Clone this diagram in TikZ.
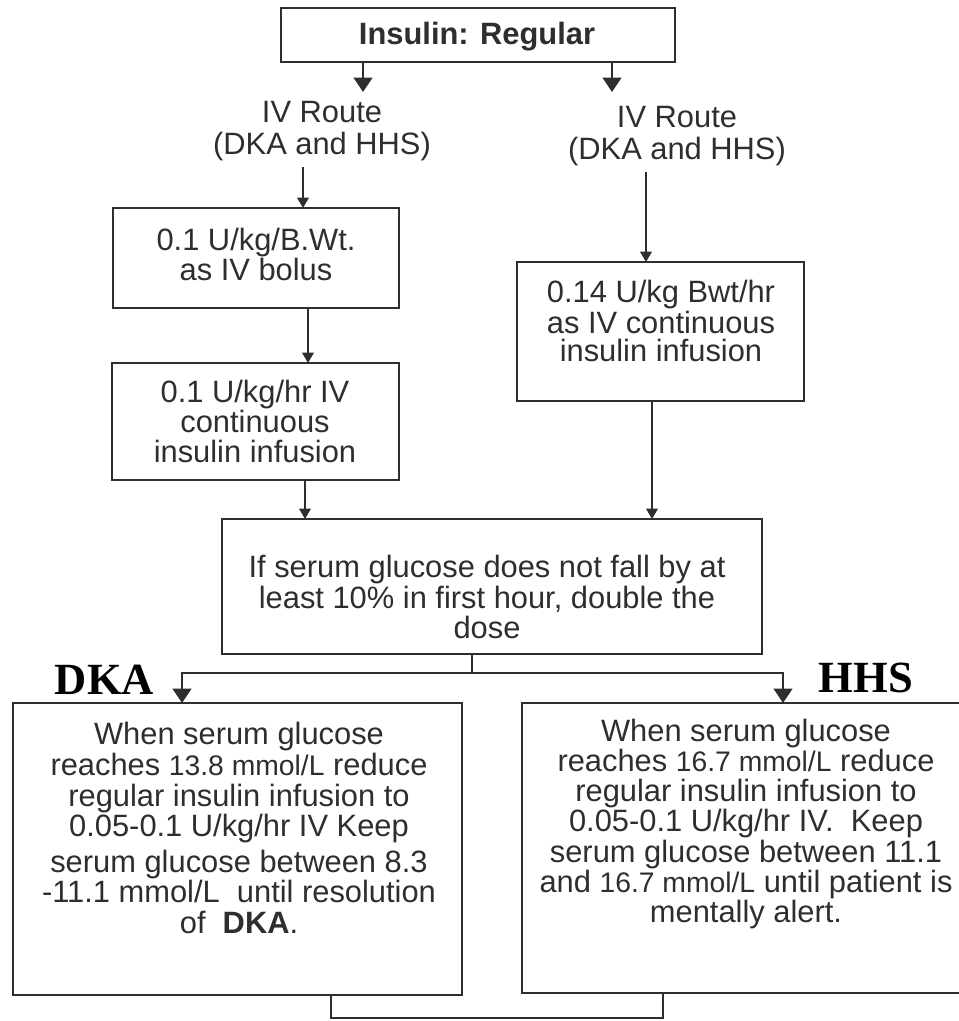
\documentclass[tikz,border=0pt]{standalone}
\usepackage{fontspec}
\setmainfont{Liberation Sans}
\newfontfamily\serifbold{Liberation Serif}
\usetikzlibrary{arrows.meta}
\definecolor{ink}{HTML}{2E2E2E}
\newcommand\lite[1]{{\fontsize{9.9}{10}\selectfont #1}}

\begin{document}
\begin{tikzpicture}[x={(0.35pt,0)}, y={(0,-0.35pt)},
  flowbox/.style={draw=ink, line width=1pt, inner sep=0pt, outer sep=0pt},
  txt/.style={text=ink, align=center, inner sep=0pt, font=\fontsize{10.8}{10.8}\selectfont},
  arr/.style={draw=ink, line width=0.7pt, -{Triangle[width=4pt,length=3.6pt]}},
  bigarr/.style={draw=ink, line width=0.7pt, -{Triangle[width=6.5pt,length=5pt]}},
  link/.style={draw=ink, line width=0.7pt},
  tag/.style={text=black, inner sep=0pt, font=\serifbold\bfseries\fontsize{15.6}{15.6}\selectfont}]
 \def\pxu{0.35pt}
 \useasboundingbox (0,0) rectangle (959,1021);

 % boxes
 \node[flowbox, minimum width=394*\pxu, minimum height=54*\pxu] (top) at (478,35) {};
 \node[flowbox, minimum width=286*\pxu, minimum height=100*\pxu] (b1) at (256,258) {};
 \node[flowbox, minimum width=287*\pxu, minimum height=117*\pxu] (b2) at (255.5,421.5) {};
 \node[flowbox, minimum width=287*\pxu, minimum height=139*\pxu] (b3) at (660.5,331.5) {};
 \node[flowbox, minimum width=540*\pxu, minimum height=135*\pxu] (mid) at (492,586.5) {};
 \node[flowbox, minimum width=449*\pxu, minimum height=292*\pxu] (dka) at (237.5,849) {};
 \node[flowbox, minimum width=450*\pxu, minimum height=290*\pxu] (hhs) at (747,848) {};

 % texts
 \node[txt, font=\fontsize{10.8}{10.8}\selectfont\bfseries] (ttop) at (477,37) {Insulin: Regular};
 \node[txt, inner sep=2pt, font=\fontsize{10.8}{11.2}\selectfont] (l1) at (322,131) {IV Route\\(DKA and HHS)};
 \node[txt, inner sep=2pt, font=\fontsize{10.8}{11.2}\selectfont] (r1) at (677,136) {IV Route\\(DKA and HHS)};
 \node[txt, font=\fontsize{10.8}{10.5}\selectfont] (t1) at (256,254) {0.1 U/kg/B.Wt.\\as IV bolus};
 \node[txt, font=\fontsize{10.8}{10.5}\selectfont] (t2) at (255,421) {0.1 U/kg/hr IV\\continuous\\insulin infusion};
 \node[txt, font=\fontsize{10.8}{9.9}\selectfont] (t3) at (661,321) {0.14 U/kg Bwt/hr\\as IV continuous\\insulin infusion};
 \node[txt] (tmid) at (487,597) {If serum glucose does not fall by at\\least 10\% in first hour, double the\\dose};
 \node[txt] (tdka) at (239,828) {When serum glucose\\reaches \lite{13.8 mmol/L} reduce\\regular insulin infusion to\\0.05-0.1 U/kg/hr IV Keep\\[1.5pt]serum glucose between 8.3\\-11.1 mmol/L\ \ until resolution\\of\ \ \textbf{DKA}.};
 \node[txt, font=\fontsize{10.8}{10.6}\selectfont] (thhs) at (746,824) {When serum glucose\\reaches \lite{16.7 mmol/L} reduce\\regular insulin infusion to\\0.05-0.1 U/kg/hr IV.\ \ Keep\\serum glucose between 11.1\\and \lite{16.7 mmol/L} until patient is\\mentally alert.};
 \node[tag] (ldka) at (104.5,680) {DKA};
 \node[tag] (lhhs) at (866,678) {HHS};

 % arrow columns
 \coordinate (c1) at (363,92);
 \coordinate (c2) at (612,92);
 \coordinate (c3) at (303,0);
 \coordinate (c4) at (646,0);
 \coordinate (c5) at (308,0);
 \coordinate (c6) at (305,0);
 \coordinate (c7) at (652,0);
 \coordinate (c8) at (182,0);
 \coordinate (c9) at (783,0);
 \coordinate (c10) at (663,0);
 \coordinate (split) at (472,673);
 \coordinate (join) at (331,1018);

 \draw[bigarr] (top.south -| c1) -- (c1);
 \draw[bigarr] (top.south -| c2) -- (c2);
 \draw[arr] (l1.south -| c3) -- (b1.north -| c3);
 \draw[arr] (r1.south -| c4) -- (b3.north -| c4);
 \draw[arr] (b1.south -| c5) -- (b2.north -| c5);
 \draw[arr] (b2.south -| c6) -- (mid.north -| c6);
 \draw[arr] (b3.south -| c7) -- (mid.north -| c7);
 \draw[bigarr] (mid.south -| split) -- (split) -| (dka.north -| c8);
 \draw[bigarr] (split) -| (hhs.north -| c9);
 \draw[link] (dka.south -| join) -- (join) -| (hhs.south -| c10);
\end{tikzpicture}
\end{document}
